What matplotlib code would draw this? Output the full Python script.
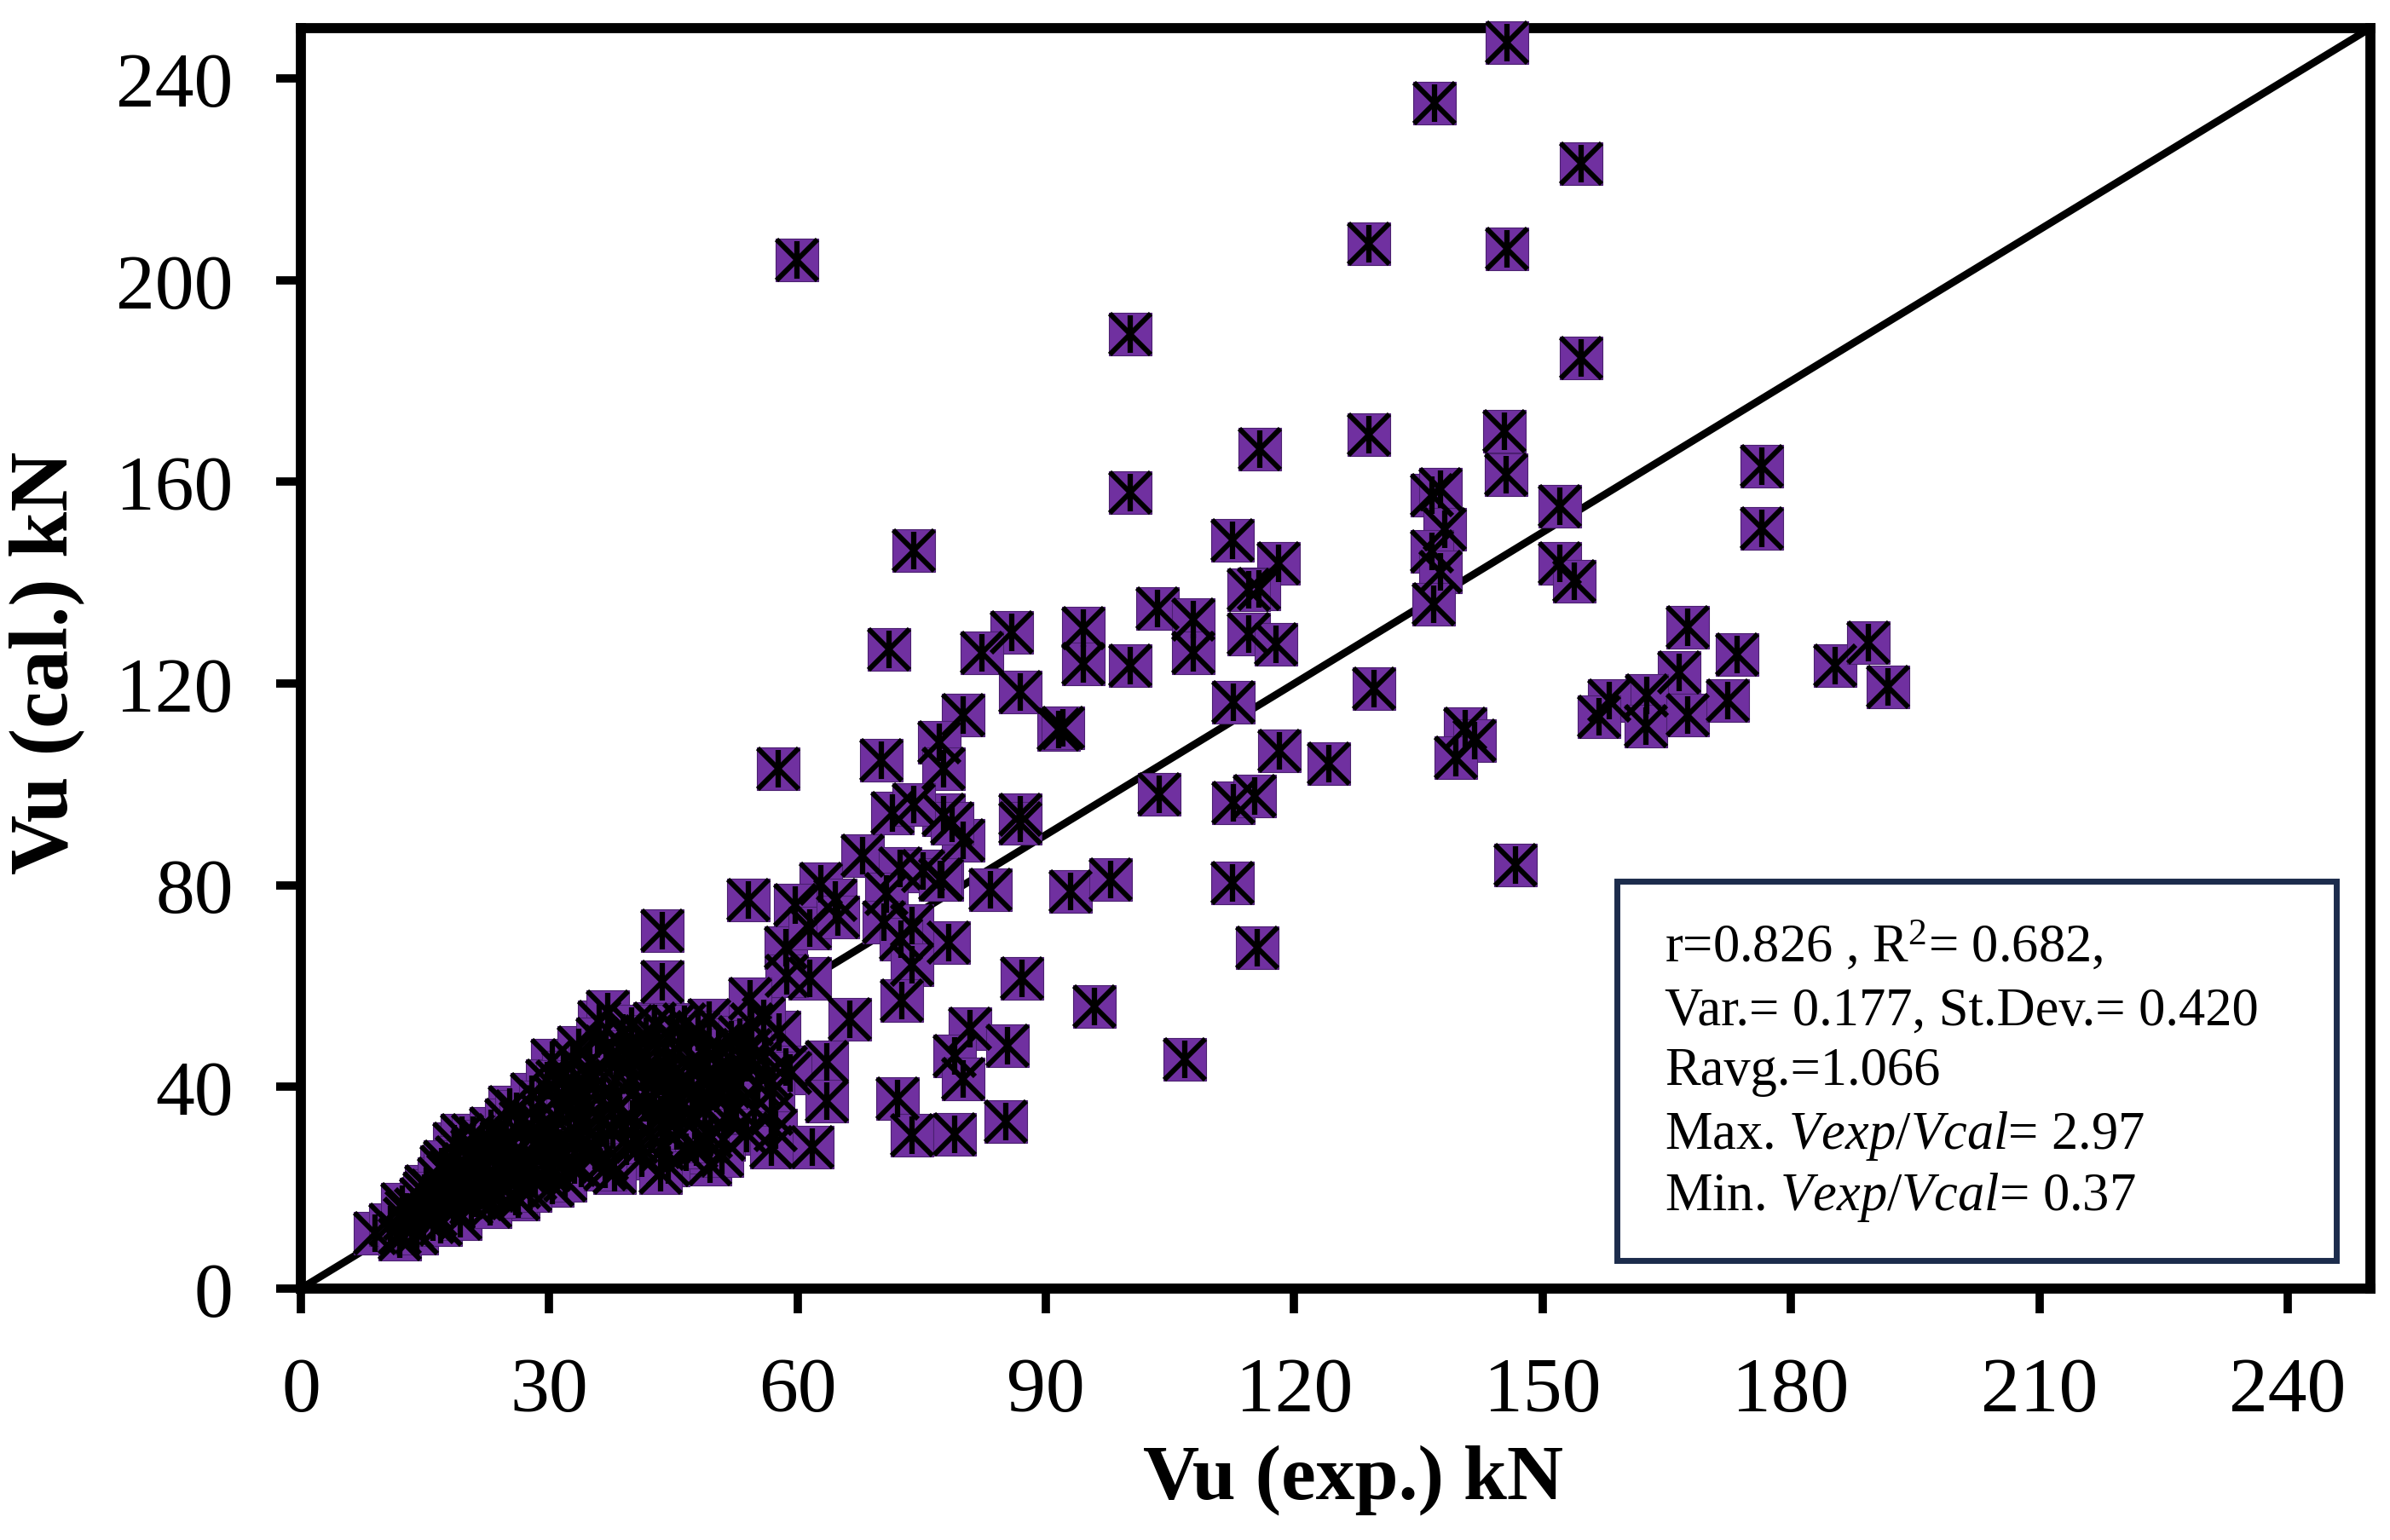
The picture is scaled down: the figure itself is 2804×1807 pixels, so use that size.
import matplotlib
matplotlib.use("Agg")
import matplotlib.pyplot as plt
from matplotlib.patches import Rectangle

# ---------------- data ----------------
# isolated / scattered specimens
exp_scatter = [145.7, 136.9, 154.7, 129.0, 145.7, 59.9, 100.2, 154.7, 129.0, 145.4,
               145.6, 115.8, 100.2, 74.0, 176.5, 176.5, 136.6, 137.7, 138.2, 136.6,
               137.7, 136.8, 152.1, 152.1, 153.8, 112.5, 118.1, 115.7, 114.5, 114.5,
               117.8, 103.5, 107.8, 107.8, 100.2, 94.5, 94.5, 85.9, 82.3, 86.9,
               91.5, 92.0, 80.0, 77.1, 77.6, 57.7, 70.1, 71.0, 112.6, 118.2,
               124.2, 129.6, 103.7, 112.6, 115.2, 140.6, 141.8, 139.5, 146.7, 167.5,
               173.5, 166.5, 162.6, 158.0, 156.8, 162.5, 167.5, 172.4, 185.3, 189.4,
               191.7, 86.9, 86.9, 80.0, 77.6, 78.7, 71.5, 74.0, 83.3, 93.0,
               97.8, 112.5, 115.5, 78.3, 87.1, 77.4, 67.9, 72.4, 75.2, 77.2,
               62.8, 64.6, 59.7, 54.1, 43.7, 43.7, 70.7, 70.4, 73.8, 72.5,
               73.8, 58.6, 61.5, 61.5, 58.7, 64.9, 72.6, 66.3, 63.5, 59.1,
               54.3, 54.3, 80.8, 79.0, 80.0, 72.1, 73.8, 79.0, 63.5, 61.8,
               56.8, 50.9, 49.1, 43.4, 36.8, 52.5, 57.0, 106.8, 95.9, 85.2,
               85.4]
cal_scatter = [247.1, 235.1, 223.1, 207.2, 206.2, 204.0, 189.3, 184.6, 169.3, 170.0,
               161.4, 166.5, 157.9, 146.4, 163.1, 150.8, 157.3, 158.5, 150.6, 146.2,
               142.1, 135.7, 155.1, 143.8, 140.3, 148.4, 143.8, 138.8, 138.6, 129.8,
               127.8, 134.9, 132.7, 126.1, 123.5, 131.0, 123.9, 130.1, 126.1, 118.3,
               110.9, 111.2, 113.7, 108.3, 103.1, 103.1, 104.8, 126.8, 116.3, 106.6,
               104.1, 119.0, 98.0, 96.3, 97.7, 111.0, 108.7, 105.3, 84.0, 131.1,
               125.7, 122.2, 117.6, 116.6, 113.4, 111.5, 113.7, 116.6, 123.5, 128.1,
               119.3, 94.0, 92.3, 88.9, 94.0, 92.3, 94.3, 96.0, 79.1, 78.8,
               81.1, 80.5, 67.6, 68.6, 61.5, 81.1, 85.9, 83.3, 82.8, 81.1,
               80.3, 77.1, 76.1, 77.1, 71.0, 60.8, 78.3, 72.7, 72.0, 69.3,
               64.2, 67.6, 71.5, 61.5, 62.0, 73.7, 57.1, 53.4, 45.0, 42.8,
               57.5, 47.3, 51.5, 46.1, 41.6, 37.7, 30.4, 30.6, 37.2, 28.1,
               28.1, 26.4, 29.2, 23.0, 23.7, 39.9, 39.4, 45.5, 56.0, 33.1,
               48.2]

# dense group of small specimens (lower-left cluster)
exp_cluster = [9.0, 11.9, 12.8, 15.1, 17.0, 18.5, 19.5, 20.8, 25.2, 30.4,
               32.8, 36.0, 37.1, 42.7, 46.3, 49.3, 16.0, 18.4, 20.6, 26.3,
               30.4, 33.0, 48.8, 49.4,
               10.8, 11.9, 12.6, 13.4, 13.9, 14.5, 14.8,
               15.4, 15.9, 16.3, 16.7, 17.2, 17.6, 18.0, 18.4, 18.8, 19.1, 19.6, 19.9,
               20.3, 20.7, 21.1, 21.5, 21.9, 22.2, 22.6, 23.0, 23.4, 23.7, 24.1, 24.5, 24.8,
               25.2, 25.6, 26.0, 26.4, 26.8, 27.1, 27.5, 27.9, 28.3, 28.7, 29.0, 29.4, 29.8,
               30.1, 30.5, 30.9, 31.3, 31.7, 32.0, 32.4, 32.8, 33.2, 33.6, 33.9, 34.3, 34.7,
               35.1, 35.5, 35.8, 36.2, 36.6, 37.0, 37.4, 37.7, 38.1, 38.5, 38.9, 39.3, 39.6,
               40.0, 40.4, 40.8, 41.2, 41.5, 41.9, 42.3, 42.7, 43.1, 43.4, 43.8, 44.2, 44.6,
               45.0, 45.4, 45.7, 46.1, 46.5, 46.9, 47.3, 47.6, 48.0, 48.4, 48.8, 49.2, 49.5,
               50.2, 50.8, 51.4, 52.0, 52.6, 53.2, 53.8, 54.5, 55.2, 56.0, 56.8, 57.8, 58.6,
               12.2, 14.0, 16.9, 17.8, 19.3, 21.3, 22.9, 24.3, 25.9, 26.6, 27.7, 28.9, 29.6,
               31.0, 31.9, 33.4, 34.0, 34.9, 36.0, 36.9, 37.9, 38.7, 39.9, 40.6, 41.7, 42.5,
               43.6, 44.4, 44.9, 45.9, 46.8, 47.8, 48.6, 49.7, 50.5, 51.1, 52.3, 53.5, 54.8,
               56.3, 57.4, 55.9,
               14.9, 17.4, 19.8, 22.4, 24.6, 27.2, 29.2, 31.5, 33.8, 35.6, 37.6, 39.5, 41.3,
               43.0, 45.2, 47.1, 49.0, 51.7, 53.0, 23.8, 28.0, 32.2, 36.4, 40.2, 44.0, 47.9,
               51.9, 21.6, 26.9, 30.7, 34.5, 38.3, 42.1, 46.0, 50.0, 54.0]
cal_cluster = [11.0, 11.0, 15.2, 20.3, 24.2, 28.7, 30.4, 30.4, 36.0, 45.3,
               45.3, 52.9, 54.9, 52.6, 52.4, 53.2, 13.2, 16.0, 16.9, 17.7,
               20.5, 24.5, 29.2, 24.7,
               12.6, 9.8, 13.9, 12.2, 15.7, 17.8, 14.1,
               16.2, 19.5, 14.6, 21.8, 17.3, 19.9, 23.1, 15.8, 26.0, 20.4, 18.1, 24.7,
               21.6, 27.3, 17.9, 23.8, 29.2, 19.7, 25.6, 31.8, 21.4, 27.5, 18.6, 24.0, 33.5,
               22.3, 28.9, 35.2, 20.1, 26.2, 31.7, 24.4, 38.6, 21.8, 29.5, 34.4, 26.8, 41.2,
               23.5, 31.3, 37.7, 27.9, 43.0, 25.2, 34.6, 40.1, 29.6, 47.8, 23.8, 36.5, 31.9,
               42.7, 27.4, 49.6, 34.1, 38.9, 25.6, 45.8, 31.5, 41.3, 36.2, 50.7, 28.3, 43.9,
               33.7, 39.0, 47.5, 25.9, 36.8, 44.2, 30.6, 40.8, 49.1, 34.5, 27.7, 45.6, 38.1,
               42.9, 31.2, 48.3, 36.4, 27.0, 44.7, 39.5, 33.3, 50.8, 41.6, 35.9, 46.2, 30.1,
               38.7, 44.5, 33.6, 49.3, 36.0, 43.2, 30.8, 52.4, 40.6, 46.0, 34.7, 50.9, 44.0,
               16.8, 10.9, 12.6, 22.4, 13.9, 26.0, 16.2, 29.6, 18.3, 33.0, 19.4, 37.0, 23.9,
               41.0, 21.5, 38.3, 27.0, 45.0, 29.5, 48.0, 22.9, 33.0, 52.0, 29.0, 50.0, 37.5,
               42.0, 24.5, 52.0, 33.9, 50.0, 28.0, 44.0, 39.0, 48.0, 29.5, 41.5, 47.0, 35.5,
               42.0, 31.5, 53.5,
               18.9, 25.1, 22.0, 20.6, 28.4, 23.0, 32.1, 35.9, 32.5, 40.4, 37.2, 46.9, 42.9,
               47.7, 38.4, 43.3, 47.3, 40.1, 49.9, 26.4, 30.8, 36.9, 33.1, 45.1, 31.9, 36.7,
               34.9, 19.4, 24.3, 28.4, 40.6, 46.5, 35.2, 39.8, 42.3, 44.8]

vu_exp = exp_cluster + exp_scatter
vu_cal = cal_cluster + cal_scatter

x_ticks = [0, 30, 60, 90, 120, 150, 180, 210, 240]
y_ticks = [0, 40, 80, 120, 160, 200, 240]
axis_max = 250
x_label = "Vu (exp.) kN"
y_label = "Vu (cal.) kN"
stats_lines = [r"r=0.826 , R$^{\mathrm{2}}$= 0.682,",
               "Var.= 0.177, St.Dev.= 0.420",
               "Ravg.=1.066",
               r"Max. $Vexp/Vcal$= 2.97",
               r"Min. $Vexp/Vcal$= 0.37"]

# ---------------- style ----------------
plt.rcParams["font.family"] = ["Liberation Serif", "DejaVu Serif"]
plt.rcParams["mathtext.fontset"] = "custom"
plt.rcParams["mathtext.rm"] = "Liberation Serif"
plt.rcParams["mathtext.it"] = "Liberation Serif:italic"
plt.rcParams["mathtext.bf"] = "Liberation Serif:bold"

purple = "#7030A0"

fig = plt.figure(figsize=(28.04, 18.08), dpi=100)
ax = fig.add_axes([0.1259, 0.1632, 0.9918 - 0.1259, 0.9812 - 0.1632])

ax.plot([0, axis_max], [0, axis_max], color="black", lw=6.3, zorder=2,
        solid_capstyle="butt")
ax.plot(vu_exp, vu_cal, "s", ms=36, mfc=purple, mec="#4b1f70", mew=0.8,
        zorder=3, clip_on=False)
ax.plot(vu_exp, vu_cal, "x", ms=34, mec="black", mew=4.3, zorder=4, clip_on=False)
ax.plot(vu_exp, vu_cal, "|", ms=32, mec="black", mew=4.5, zorder=4, clip_on=False)

ax.set_xlim(0, axis_max)
ax.set_ylim(0, axis_max)
ax.set_xticks(x_ticks)
ax.set_yticks(y_ticks)
ax.tick_params(axis="both", direction="out", length=21, width=7, pad=36,
               labelsize=66, colors="black")
for sp in ax.spines.values():
    sp.set_linewidth(8.5)
    sp.set_color("black")

ax.set_xlabel(x_label, fontsize=66, fontweight="bold", va="center")
ax.xaxis.set_label_coords(0.5086, -0.151)
ax.set_ylabel(y_label, fontsize=70, fontweight="bold", va="center", ha="center")
ax.yaxis.set_label_coords(-0.123, 0.497)

# statistics box
box = Rectangle((0.6765, 0.1814), 0.9775 - 0.6765, 0.4275 - 0.1814,
                transform=fig.transFigure, facecolor="white", edgecolor="#1C2C4C",
                linewidth=5, zorder=5)
fig.patches.append(box)
baselines = [0.376, 0.3346, 0.2959, 0.2544, 0.2146]
for line, yb in zip(stats_lines, baselines):
    fig.text(0.6965, yb, line, fontsize=45, va="baseline", ha="left", zorder=6)

fig.savefig("out.png", dpi=100, facecolor="white")
